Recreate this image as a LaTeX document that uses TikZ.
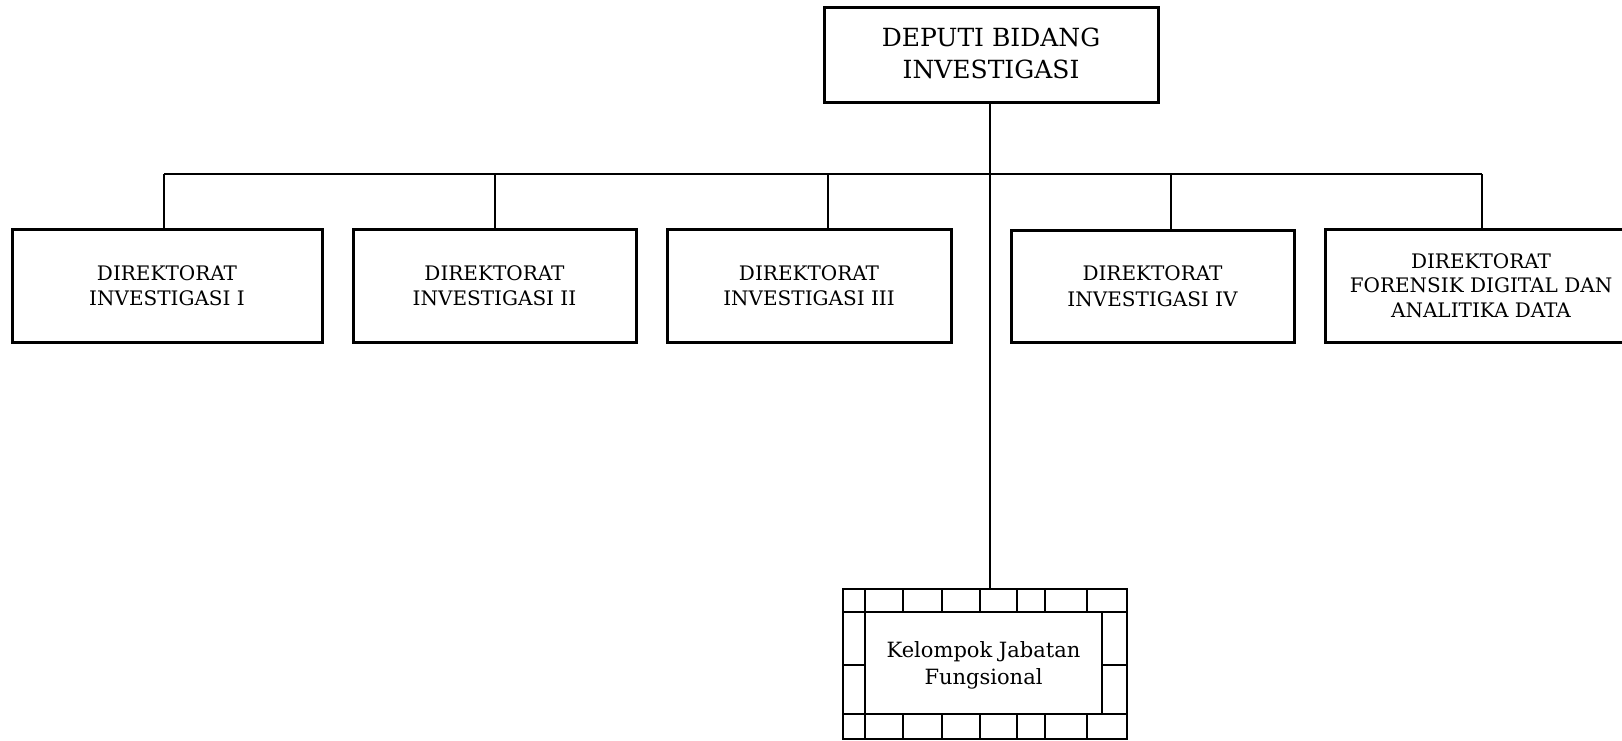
\documentclass[tikz,border=0pt]{standalone}
\usepackage{fontspec}
\setmainfont{DejaVu Serif}
\begin{document}
\begin{tikzpicture}[x=1pt,y=-1pt,
  unitbox/.style={draw, line width=3pt, align=center, inner sep=0pt,
    font=\fontsize{20}{25.5}\selectfont},
  topbox/.style={draw, line width=3pt, align=center, inner sep=0pt,
    font=\fontsize{25}{32}\selectfont},
  conn/.style={line width=1.1pt},
  frame/.style={line width=2.4pt}]
\useasboundingbox (0,0) rectangle (1622,740);
% top
\node[topbox, minimum width=334pt, minimum height=95pt, text depth=2pt, yshift=-1pt] (dep) at (991,53.5) {DEPUTI BIDANG\\INVESTIGASI};
% directorates
\node[unitbox, minimum width=310pt, minimum height=113pt] (d1) at (167,285.5) {DIREKTORAT\\INVESTIGASI I};
\node[unitbox, minimum width=283pt, minimum height=113pt] (d2) at (494.5,285.5) {DIREKTORAT\\INVESTIGASI II};
\node[unitbox, minimum width=284pt, minimum height=113pt] (d3) at (809,285.5) {DIREKTORAT\\INVESTIGASI III};
\node[unitbox, minimum width=283pt, minimum height=112pt] (d4) at (1152.5,286) {DIREKTORAT\\INVESTIGASI IV};
\node[unitbox, minimum width=312pt, minimum height=113pt, font=\fontsize{20}{24.5}\selectfont] (d5) at (1481,285.5) {DIREKTORAT\\FORENSIK DIGITAL DAN\\ANALITIKA DATA};
% functional group
\node[inner sep=0pt, minimum width=237pt, minimum height=102pt, align=center,
  font=\fontsize{21}{27}\selectfont] (kjf) at (983.5,665) {Kelompok Jabatan\\Fungsional};
\coordinate (kt) at (990,589);
% connectors
\coordinate (h1) at (164,174);
\coordinate (h2) at (495,174);
\coordinate (h3) at (828,174);
\coordinate (h4) at (1171,174);
\coordinate (h5) at (1482,174);
\draw[conn] (h1) -- (h5);
\draw[conn] (990,101.5) -- (kt);
\draw[conn] (h1) -- (h1 |- d1.north);
\draw[conn] (h2) -- (h2 |- d2.north);
\draw[conn] (h3) -- (h3 |- d3.north);
\draw[conn] (h4) -- (h4 |- d4.north);
\draw[conn] (h5) -- (h5 |- d5.north);
% bordered frame around functional group
\draw[frame] (843,589) rectangle (1127,739);
\draw[frame] (843,612) -- (1127,612);
\draw[frame] (843,714) -- (1127,714);
\draw[frame] (865,589) -- (865,739);
\draw[frame] (1102,612) -- (1102,714);
\draw[frame] (843,665) -- (865,665);
\draw[frame] (1102,665) -- (1127,665);
\foreach \x in {903,942,980,1017,1045,1087}{
  \draw[frame] (\x,589) -- (\x,612);
  \draw[frame] (\x,714) -- (\x,739);
}
\end{tikzpicture}
\end{document}
